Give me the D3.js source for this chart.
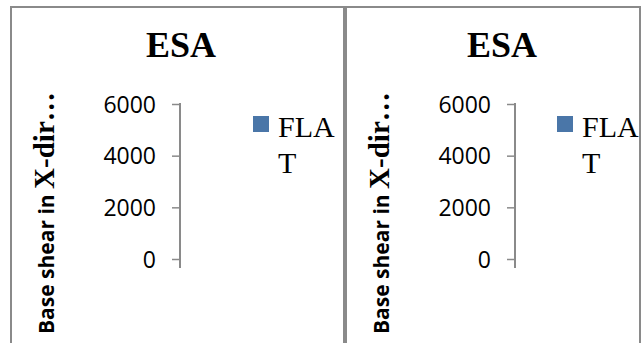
<!DOCTYPE html>
<html>
<head>
<meta charset="utf-8">
<script src="https://cdn.jsdelivr.net/npm/d3@7"></script>
<style>
  html, body { margin: 0; padding: 0; background: #fff; }
  svg { display: block; }
</style>
</head>
<body>
<svg id="chart" width="642" height="343"></svg>
<script>
// Chart content
const chartTitles = ["ESA", "ESA"];
const seriesNames = ["FLAT"];
const categories = [];          // no category has a plotted value
const flatValues = [];          // FLAT series (empty)
const yTicks = [0, 2000, 4000, 6000];
const yDomain = [0, 6000];
const yLabelSans = "Base shear in ";
const yLabelSerif = "X-dir…";

const svg = d3.select("#chart");
const frame = "#8a8a8a";

// Two panels, each with its own layout
const panels = [
  { x0: 11, x1: 344, titleX: 181, axisX: 180, labelX: 54, legendX: 253, legendTextX: 278 },
  { x0: 346, x1: 640, titleX: 502, axisX: 515, labelX: 389, legendX: 557, legendTextX: 582 }
];

// Panel frames
panels.forEach(p => {
  svg.append("path")
    .attr("d", `M${p.x0},343 V7 H${p.x1} V343`)
    .attr("fill", "none")
    .attr("stroke", frame)
    .attr("stroke-width", 2);
});

const y = d3.scaleLinear().domain(yDomain).range([259, 104]);

panels.forEach((p, i) => {
  const g = svg.append("g");

  // Title
  g.append("text")
    .attr("x", p.titleX).attr("y", 57)
    .attr("text-anchor", "middle")
    .attr("font-family", "'Liberation Serif', 'Times New Roman', serif")
    .attr("font-weight", "bold")
    .attr("font-size", 36)
    .attr("fill", "#000")
    .text(chartTitles[i]);

  // Category scale for the (empty) bars
  const x = d3.scaleBand().domain(categories).range([p.axisX, p.legendX - 20]).padding(0.3);
  g.selectAll("rect.bar").data(flatValues).join("rect")
    .attr("class", "bar")
    .attr("x", (d, k) => x(categories[k]))
    .attr("width", x.bandwidth())
    .attr("y", d => y(d))
    .attr("height", d => y(0) - y(d))
    .attr("fill", "#4a76a8");

  // Value axis
  const axis = d3.axisLeft(y).tickValues(yTicks).tickSize(8).tickPadding(16).tickFormat(d3.format("d"));
  const ag = g.append("g").attr("transform", `translate(${p.axisX},0)`).call(axis);
  ag.select(".domain").remove();
  ag.append("line")
    .attr("x1", 0).attr("x2", 0)
    .attr("y1", y(6000) - 1).attr("y2", y(0) + 9)
    .attr("stroke", frame).attr("stroke-width", 2);
  ag.selectAll(".tick line").attr("stroke", frame).attr("stroke-width", 1.5);
  ag.selectAll(".tick text")
    .attr("fill", "#000")
    .attr("font-family", "'Open Sans', sans-serif")
    .attr("font-size", 23)
    .attr("dy", "0.36em");

  // Rotated value-axis label, mixed fonts
  const lab = g.append("text")
    .attr("transform", `translate(${p.labelX},${334}) rotate(-90)`)
    .attr("fill", "#000")
    .attr("font-weight", "bold");
  lab.append("tspan")
    .attr("font-family", "'Open Sans', sans-serif")
    .attr("font-size", 21)
    .text(yLabelSans);
  lab.append("tspan")
    .attr("font-family", "'Liberation Serif', serif")
    .attr("font-size", 29)
    .text(yLabelSerif);

  // Legend
  const lg = g.append("g");
  lg.append("rect")
    .attr("x", p.legendX).attr("y", 116)
    .attr("width", 16).attr("height", 16)
    .attr("fill", "#4a76a8");
  const name = seriesNames[0];
  const lt = lg.append("text")
    .attr("font-family", "'Liberation Serif', serif")
    .attr("font-size", 30)
    .attr("fill", "#000");
  lt.append("tspan").attr("x", p.legendTextX).attr("y", 137).text(name.slice(0, 3));
  lt.append("tspan").attr("x", p.legendTextX).attr("y", 173).text(name.slice(3));
});
</script>
</body>
</html>
